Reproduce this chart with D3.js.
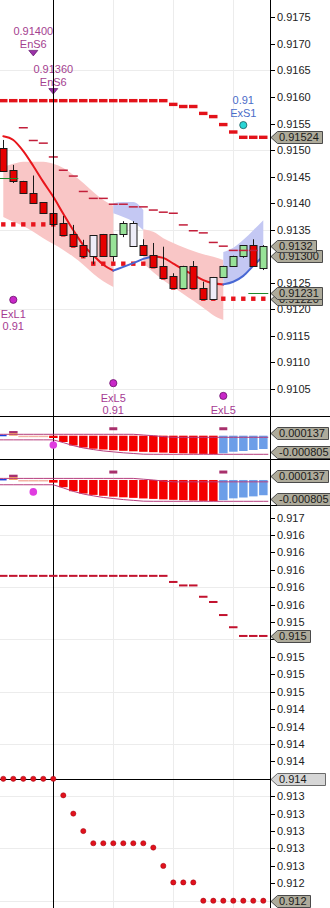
<!DOCTYPE html>
<html>
<head>
<meta charset="utf-8">
<script src="https://d3js.org/d3.v7.min.js"></script>
<style>
html,body{margin:0;padding:0;background:#fff;}
svg{display:block;}
text{font-family:"Liberation Sans",Arial,sans-serif;font-size:11px;}
</style>
</head>
<body>
<svg id="c" width="330" height="908"></svg>
<script>
// ---------------- DATA ----------------
const barIndex = [0,1,2,3,4,5,6,7,8,9,10,11,12,13,14,15,16,17,18,19,20,21,22,23,24,25,26];
const candleOpen  = [0.91504,0.91462,0.91442,0.91420,0.91402,0.91381,0.91363,0.91342,0.91321,0.91300,0.91342,0.91301,0.91342,0.91319,0.91321,0.91302,0.91282,0.91263,0.91241,0.91282,0.91241,0.91220,0.91261,0.91282,0.91301,0.91321,0.91279];
const candleHigh  = [0.91519,0.91472,0.91442,0.91452,0.91402,0.91381,0.91376,0.91359,0.91331,0.91340,0.91342,0.91342,0.91366,0.91366,0.91332,0.91325,0.91318,0.91268,0.91282,0.91291,0.91252,0.91261,0.91282,0.91301,0.91321,0.91332,0.91321];
const candleLow   = [0.91461,0.91438,0.91420,0.91402,0.91381,0.91361,0.91340,0.91319,0.91297,0.91285,0.91301,0.91290,0.91336,0.91319,0.91302,0.91280,0.91260,0.91241,0.91241,0.91240,0.91220,0.91220,0.91261,0.91282,0.91297,0.91282,0.91274];
const candleClose = [0.91461,0.91442,0.91420,0.91402,0.91381,0.91361,0.91340,0.91319,0.91300,0.91340,0.91301,0.91342,0.91363,0.91363,0.91302,0.91280,0.91260,0.91241,0.91282,0.91240,0.91220,0.91261,0.91282,0.91301,0.91321,0.91282,0.91320];
const candleKind  = ['dn','dn','dn','dn','dn','dn','dn','dn','dn','wt','dn','up','up','wt','dn','dn','dn','dn','up','dn','dn','wt','up','up','up','dn','up'];

const maValues = [0.91526,0.91519,0.91498,0.91470,0.91440,0.91412,0.91380,0.91349,0.91321,0.91302,0.91284,0.91273,0.91280,0.91287,0.91295,0.91300,0.91297,0.91286,0.91275,0.91265,0.91255,0.91249,0.91247,0.91252,0.91263,0.91282,0.91300];

const bandStart = [0, 11, 14, 22];
const bandKind  = ['down','up','down','up'];
const bandUpper = [
  [0.91468,0.91474,0.91478,0.91478,0.91478,0.91474,0.91466,0.91453,0.91438,0.91421,0.91406,0.91395],
  [0.91400,0.91402,0.91402,0.91387],
  [0.91351,0.91346,0.91334,0.91325,0.91317,0.91310,0.91304,0.91299,0.91293],
  [0.91308,0.91316,0.91331,0.91349,0.91368]
];
const bandLower = [
  [0.91374,0.91365,0.91357,0.91346,0.91334,0.91323,0.91312,0.91299,0.91284,0.91267,0.91253,0.91242],
  [0.91381,0.91374,0.91365,0.91349],
  [0.91287,0.91270,0.91255,0.91242,0.91229,0.91216,0.91203,0.91189,0.91180],
  [0.91247,0.91252,0.91263,0.91282,0.91300]
];

const stopValues  = [0.91593,0.91593,0.91593,0.91593,0.91593,0.91593,0.91593,0.91593,0.91593,0.91593,0.91593,0.91593,0.91593,0.91593,0.91593,0.91593,0.91593,0.91586,0.91582,0.91582,0.91569,0.91563,0.91548,0.91534,0.91524,0.91524,0.91524];
const trailValues = [null,null,0.91542,0.91518,0.91513,0.91487,0.91462,0.91451,0.91422,0.91409,0.91409,0.91398,0.91398,0.91393,0.91393,0.91387,0.91383,0.91381,0.91359,0.91348,0.91344,0.91326,0.91319,0.91311,0.91311,0.91311,null];
const dotValues   = [0.9136,0.9136,0.9136,0.9136,0.9136,0.9136,0.91341,0.9132,0.9130,0.91286,0.91286,0.91286,0.91286,0.91286,0.91286,0.91281,0.9126,0.91241,0.91241,0.91241,0.9122,0.9122,0.9122,0.9122,0.9122,0.9122,0.9122];

const levelStartBar = [0, 25];
const levelEndBar   = [1, 26];
const levelValues   = [0.91447, 0.91231];

const entryBars   = [3, 5];
const entryPrices = [0.91400, 0.91360];
const entryNames  = ['EnS6', 'EnS6'];
const entryLevels = [0.91683, 0.91611];

const exitBars   = [1, 11, 22, 24];
const exitNames  = ['ExL1', 'ExL5', 'ExL5', 'ExS1'];
const exitPrices = [0.91, 0.91, 0.91, 0.91];
const exitLevels = [0.91218, 0.91061, 0.91037, 0.91547];
const exitSide   = ['L', 'L', 'L', 'S'];

const histValues = [0.00004,0.0002,-0.00002,-0.00002,-0.00002,-0.0001,-0.000273,-0.000424,-0.000511,-0.000563,-0.000597,-0.000628,-0.000654,-0.000675,-0.000697,-0.000714,-0.000732,-0.000749,-0.000762,-0.000775,-0.000788,-0.000801,-0.000762,-0.000693,-0.000662,-0.000619,-0.000576];
const histKind   = ['b','m','s','s','s','r','r','r','r','r','r','r','r','r','r','r','r','r','r','r','r','r','l','l','l','l','l'];
const oscUpper   = [0.00006,0.00006,0.00006,0.00006,0.00006,0.00006,0.00006,0.00006,0.00006,0.00006,0.00006,0.00006,0.00006,0.00006,0.00003,0,-0.00004,-0.00007,-0.00007,-0.00007,-0.00007,-0.00007,-0.00007,-0.00007,-0.00007,-0.00007,-0.00007];
const oscLower   = [-0.00018,-0.00018,-0.00018,-0.00018,-0.00018,-0.00018,-0.0003,-0.00043,-0.00053,-0.0006,-0.00066,-0.0007,-0.00074,-0.00077,-0.0008,-0.000805,-0.000805,-0.000805,-0.000805,-0.000805,-0.000805,-0.000805,-0.000805,-0.000805,-0.000805,-0.000805,-0.000805];
const oscDashBars = [11, 22];
const oscDashValue = 0.0003;
const osc2MarkerBar = 5,  osc2MarkerValue = -0.0004;
const osc3MarkerBar = 3,  osc3MarkerValue = -0.00045;
const oscLabelValues = [0.000137, -0.000805];

const p1Ticks = [0.9105,0.9110,0.9115,0.9120,0.9125,0.9130,0.9135,0.9140,0.9145,0.9150,0.9155,0.9160,0.9165,0.9170,0.9175];
const p1Grid  = [0.9105,0.9120,0.9135,0.9150,0.9165];
const p1LabelValues = [0.91524, 0.91220, 0.91231, 0.91300, 0.9132];
const p1LabelTexts  = ['0.91524','0.91220','0.91231','0.91300','0.9132'];

const p4Ticks = [0.9166,0.9164,0.9162,0.9160,0.9158,0.9156,0.9154,0.9152,0.9150,0.9148,0.9146,0.9144,0.9142,0.9140,0.9138,0.9136,0.9134,0.9132,0.9130,0.9128,0.9126,0.9124,0.9122];
const p4Grid  = [0.9164,0.9158,0.9152,0.9146,0.9140,0.9134,0.9128,0.9122];
const p4LabelValues = [0.91524, 0.9122];

const gridBars = [5, 11, 17, 23];
const crossBar = 5;
const crossValue = 0.9136;

// ---------------- LAYOUT ----------------
const W = 330, H = 908, AX = 270;
const P1 = [0, 416], P2 = [417, 459], P3 = [460, 505.5], P4 = [506, 908];

const svg = d3.select('#c');
const x  = d3.scaleLinear().domain([0, 26]).range([3.3, 263.3]);
const y1 = d3.scaleLinear().domain([0.9105, 0.9175]).range([389, 17.3]);
const y2 = d3.scaleLinear().domain([-0.000805, 0.00006]).range([454.3, 434.3]);
const y3 = d3.scaleLinear().domain([-0.000805, 0.00006]).range([501.3, 478.4]);
const y4 = d3.scaleLinear().domain([0.9124, 0.9166]).range([883.3, 517.5]);
const crisp = v => Math.round(v) + 0.5;

const defs = svg.append('defs');
[['cp1',P1],['cp2',P2],['cp3',P3],['cp4',P4]].forEach(([id,p]) => {
  defs.append('clipPath').attr('id', id).append('rect')
    .attr('x', 0).attr('y', p[0]).attr('width', AX).attr('height', p[1]-p[0]);
});
const grad = defs.append('linearGradient').attr('id','gm').attr('x1',0).attr('x2',0).attr('y1',0).attr('y2',1);
grad.append('stop').attr('offset','0%').attr('stop-color','#a8306e');
grad.append('stop').attr('offset','50%').attr('stop-color','#a8306e');
grad.append('stop').attr('offset','50%').attr('stop-color','#f2a060');
grad.append('stop').attr('offset','100%').attr('stop-color','#f2a060');

svg.append('rect').attr('width', W).attr('height', H).attr('fill', '#fff');

// y positions of the value boxes (used to leave hidden tick labels out)
const boxYs1 = p1LabelValues.map(v => y1(v));
const boxYs4 = p4LabelValues.map(v => y4(v)).concat([y4(crossValue)]);

// vertical grid
svg.append('g').selectAll('line').data(gridBars).join('line')
  .attr('x1', d => crisp(x(d))).attr('x2', d => crisp(x(d)))
  .attr('y1', 0).attr('y2', H).attr('stroke', '#ececec');

// horizontal grid
svg.append('g').selectAll('line').data(p1Grid).join('line')
  .attr('x1', 0).attr('x2', AX).attr('y1', d => crisp(y1(d))).attr('y2', d => crisp(y1(d)))
  .attr('stroke', '#ececec');
svg.append('g').selectAll('line').data(p4Grid).join('line')
  .attr('x1', 0).attr('x2', AX).attr('y1', d => crisp(y4(d))).attr('y2', d => crisp(y4(d)))
  .attr('stroke', '#ececec');

// axis ticks
function ticks(arr, ys, fmt, boxYs) {
  const g = svg.append('g');
  g.selectAll('line').data(arr).join('line')
    .attr('x1', AX).attr('x2', AX + 5).attr('y1', d => crisp(ys(d))).attr('y2', d => crisp(ys(d)))
    .attr('stroke', '#000');
  const visible = arr.filter(d => !boxYs.some(b => Math.abs(b - ys(d)) < 4.5));
  g.selectAll('text').data(visible).join('text')
    .attr('x', 277).attr('y', d => ys(d) + 4).attr('fill', '#222').text(d => fmt(d));
}
ticks(p1Ticks, y1, d3.format('.4f'), boxYs1);
ticks(p4Ticks, y4, d3.format('.3f'), boxYs4);

// ------------- PANEL 1 -------------
const g1 = svg.append('g').attr('clip-path', 'url(#cp1)');
const bandColor = {down: '#f9c6c6', up: '#c4c8f3'};
bandStart.forEach((s, si) => {
  const pts = bandUpper[si].map((u, j) => ({i: s + j, u, l: bandLower[si][j]}));
  g1.append('path').datum(pts)
    .attr('d', d3.area().x(d => x(d.i)).y0(d => y1(d.l)).y1(d => y1(d.u)).curve(d3.curveMonotoneX))
    .attr('fill', bandColor[bandKind[si]]);
});

// crosshair
svg.append('line').attr('x1', crisp(x(crossBar))).attr('x2', crisp(x(crossBar)))
  .attr('y1', 0).attr('y2', H).attr('stroke', '#000');
svg.append('line').attr('x1', 0).attr('x2', AX)
  .attr('y1', crisp(y4(crossValue))).attr('y2', crisp(y4(crossValue))).attr('stroke', '#000');

// stop dashes
g1.append('g').selectAll('rect').data(barIndex).join('rect')
  .attr('x', i => x(i) - 4.3).attr('width', 8.5)
  .attr('y', i => y1(stopValues[i]) - 1.7).attr('height', 3.4).attr('fill', '#e3121a');

// dotted level
g1.append('g').selectAll('rect').data(barIndex).join('rect')
  .attr('x', i => x(i) - 2.2).attr('width', 4.4)
  .attr('y', i => y1(dotValues[i]) - 2.2).attr('height', 4.4).attr('fill', '#e8141c');

// MA line, coloured by direction
const runs = [];
barIndex.forEach(i => {
  if (i === 0) return;
  const dir = maValues[i] >= maValues[i-1] ? 'up' : 'down';
  if (!runs.length || runs[runs.length-1].dir !== dir) runs.push({dir, pts: [i-1]});
  runs[runs.length-1].pts.push(i);
});
runs.forEach(r => {
  g1.append('path').datum(r.pts)
    .attr('d', d3.line().x(i => x(i)).y(i => y1(maValues[i])).curve(d3.curveMonotoneX))
    .attr('fill', 'none').attr('stroke', r.dir === 'up' ? '#4868d4' : '#e8161c')
    .attr('stroke-width', 2).attr('stroke-linecap', 'round');
});

// candles
const candleFill = {dn: '#e60000', up: '#98e298', wt: '#eeedf8'};
const cg = g1.append('g');
barIndex.forEach(i => {
  const cx = crisp(x(i));
  cg.append('line').attr('x1', cx).attr('x2', cx)
    .attr('y1', y1(candleHigh[i])).attr('y2', y1(candleLow[i])).attr('stroke', '#1a1a1a');
  const top = y1(Math.max(candleOpen[i], candleClose[i]));
  const bot = y1(Math.min(candleOpen[i], candleClose[i]));
  cg.append('rect').attr('x', cx - 3.5).attr('width', 7)
    .attr('y', Math.round(top) + 0.5).attr('height', Math.max(1, Math.round(bot - top)))
    .attr('fill', candleFill[candleKind[i]]).attr('stroke', '#1a1a1a');
});

// trail dashes
g1.append('g').selectAll('line').data(barIndex.filter(i => trailValues[i] !== null)).join('line')
  .attr('x1', i => x(i) - 4.5).attr('x2', i => x(i) + 4.5)
  .attr('y1', i => y1(trailValues[i])).attr('y2', i => y1(trailValues[i]))
  .attr('stroke', '#c21e3a').attr('stroke-width', 1.5);

// level lines
levelValues.forEach((v, k) => {
  g1.append('line').attr('x1', x(levelStartBar[k]) - 5).attr('x2', x(levelEndBar[k]) + 5)
    .attr('y1', crisp(y1(v))).attr('y2', crisp(y1(v))).attr('stroke', '#1d8a2a');
});

// entry markers
entryBars.forEach((b, k) => {
  const cx = x(b), cy = y1(entryLevels[k]);
  g1.append('path').attr('d', `M${cx-4.5},${cy-2.5}L${cx+4.5},${cy-2.5}L${cx},${cy+3}Z`)
    .attr('fill', '#9b32a8').attr('stroke', '#5e1068').attr('stroke-width', 0.7);
  g1.append('text').attr('x', cx).attr('y', cy - 22 + 4).attr('text-anchor', 'middle')
    .attr('fill', '#a4418f').text(d3.format('.5f')(entryPrices[k]));
  g1.append('text').attr('x', cx).attr('y', cy - 9 + 4).attr('text-anchor', 'middle')
    .attr('fill', '#a4418f').text(entryNames[k]);
});

// exit markers
exitBars.forEach((b, k) => {
  const cx = x(b), cy = y1(exitLevels[k]);
  const isL = exitSide[k] === 'L';
  const col = isL ? '#a63a92' : '#4a6cc8';
  g1.append('circle').attr('cx', cx).attr('cy', cy).attr('r', 3.6)
    .attr('fill', isL ? '#c828c8' : '#2ad6d6').attr('stroke', isL ? '#6a106a' : '#1a5a5a').attr('stroke-width', 0.8);
  const priceTxt = d3.format('.2f')(exitPrices[k]);
  if (isL) {
    g1.append('text').attr('x', cx).attr('y', cy + 14.5 + 4).attr('text-anchor', 'middle').attr('fill', col).text(exitNames[k]);
    g1.append('text').attr('x', cx).attr('y', cy + 26.5 + 4).attr('text-anchor', 'middle').attr('fill', col).text(priceTxt);
  } else {
    g1.append('text').attr('x', cx).attr('y', cy - 25 + 4).attr('text-anchor', 'middle').attr('fill', col).text(priceTxt);
    g1.append('text').attr('x', cx).attr('y', cy - 12 + 4).attr('text-anchor', 'middle').attr('fill', col).text(exitNames[k]);
  }
});

// ------------- PANELS 2 & 3 -------------
const histFill = {b: '#1c3ee0', m: 'url(#gm)', s: '#f4b2a4', r: '#f40000', l: '#6c9ee8'};
function oscPanel(clipId, ys, mBar, mVal) {
  const g = svg.append('g').attr('clip-path', `url(#${clipId})`);
  const zero = ys(0);
  g.selectAll('rect.h').data(barIndex).join('rect')
    .attr('x', i => histKind[i] === 's' ? x(i) - 5 : x(i) - 4.2)
    .attr('width', i => histKind[i] === 's' ? 10 : (histKind[i] === 'b' ? 7.5 : 8.5))
    .attr('y', i => Math.min(zero, ys(histValues[i])))
    .attr('height', i => Math.max(1.5, Math.abs(ys(histValues[i]) - zero)))
    .attr('fill', i => histFill[histKind[i]]);
  [oscUpper, oscLower].forEach(arr => {
    const pts = [[x(-0.5), ys(arr[0])]].concat(barIndex.map(i => [x(i), ys(arr[i])]), [[x(26.5), ys(arr[26])]]);
    g.append('path').attr('d', d3.line()(pts)).attr('fill', 'none')
      .attr('stroke', '#b63e7e').attr('stroke-width', 1);
  });
  g.selectAll('rect.d').data(oscDashBars).join('rect')
    .attr('x', i => x(i) - 4).attr('width', 8)
    .attr('y', ys(oscDashValue) - 1.5).attr('height', 3).attr('fill', '#a8306c');
  g.append('circle').attr('cx', x(mBar)).attr('cy', ys(mVal)).attr('r', 3.8).attr('fill', '#e03ce0');
}
oscPanel('cp2', y2, osc2MarkerBar, osc2MarkerValue);
oscPanel('cp3', y3, osc3MarkerBar, osc3MarkerValue);

// ------------- PANEL 4 -------------
const g4 = svg.append('g').attr('clip-path', 'url(#cp4)');
g4.append('g').selectAll('rect').data(barIndex).join('rect')
  .attr('x', i => x(i) - 4.3).attr('width', 8.5)
  .attr('y', i => y4(stopValues[i]) - 1).attr('height', 2).attr('fill', '#c2122e');
g4.append('g').selectAll('circle').data(barIndex).join('circle')
  .attr('cx', i => x(i)).attr('cy', i => y4(dotValues[i])).attr('r', 2.6)
  .attr('fill', '#e0121c').attr('stroke', '#a00010').attr('stroke-width', 0.5);

// ------------- separators & axis -------------
[416.5, 459.5, 505.5].forEach(v => {
  svg.append('line').attr('x1', 0).attr('x2', W).attr('y1', v).attr('y2', v).attr('stroke', '#000');
});
svg.append('line').attr('x1', AX + 0.5).attr('x2', AX + 0.5).attr('y1', 0).attr('y2', H).attr('stroke', '#000');

// ------------- value boxes -------------
function box(yc, label, fill, stroke, minW) {
  const g = svg.append('g');
  const t = g.append('text').attr('x', 279).attr('y', yc + 4).attr('fill', '#1a1a1a').text(label);
  const w = Math.max(t.node().getComputedTextLength() + 5, minW || 0);
  const yt = Math.round(yc - 6) + 0.5, yb = Math.round(yc + 6) + 0.5, xl = 277.5, xr = Math.round(277 + w) + 0.5;
  g.insert('path', 'text')
    .attr('d', `M${AX + 1},${Math.round(yc) + 0.5}L${xl},${yt}L${xr},${yt}L${xr},${yb}L${xl},${yb}Z`)
    .attr('fill', fill).attr('stroke', stroke);
}
const boxFill = '#aeab9b', boxStroke = '#4a4a4a';
p1LabelValues.forEach((v, k) => box(y1(v), p1LabelTexts[k], boxFill, boxStroke));
const oscFmt = d3.format('.6f');
[[y2, P2], [y3, P3]].forEach(([ys, p]) => {
  oscLabelValues.forEach(v => {
    const yc = Math.min(p[1] - 7, Math.max(p[0] + 7, ys(v)));
    box(yc, oscFmt(v).replace('−', '-'), boxFill, boxStroke);
  });
});
const p4Fmt = d3.format('.3f');
box(y4(p4LabelValues[0]), p4Fmt(p4LabelValues[0]), boxFill, boxStroke);
box(y4(crossValue), p4Fmt(crossValue), '#d6d6d6', '#6a6a6a', 48);
box(Math.min(P4[1] - 7, y4(p4LabelValues[1])), p4Fmt(p4LabelValues[1]), boxFill, boxStroke);
</script>
</body>
</html>
